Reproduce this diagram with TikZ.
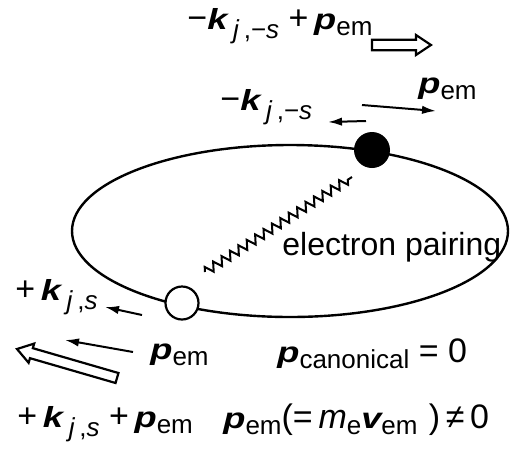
\documentclass[tikz,border=0pt]{standalone}
\usepackage{fontspec}
\setmainfont{Liberation Sans}
\newfontfamily\symfont{Liberation Sans}[FakeStretch=1.25]
\usepackage{tikz}
\usetikzlibrary{arrows.meta,calc,decorations.pathmorphing}
\newcommand{\bvec}[1]{{\symfont\fontsize{14.5}{16}\selectfont\bfseries\itshape #1}}
\newcommand{\lsub}[2][3pt]{\raisebox{-#1}{\fontsize{13}{15}\selectfont #2}}
% hollow block arrow from tail #1 to tip #2
\newcommand{\hollowarrow}[2]{%
  \coordinate (hh) at ($(#2)!7.5pt!(#1)$);
  \draw[fatarrow] ($(#1)!2.6pt!90:(#2)$) -- ($(hh)!2.6pt!90:(#2)$) -- ($(hh)!5pt!90:(#2)$)
    -- (#2) -- ($(hh)!5pt!-90:(#2)$) -- ($(hh)!2.6pt!-90:(#2)$) -- ($(#1)!2.6pt!-90:(#2)$) -- cycle;
}
\tikzset{
  orbit/.style={line width=1.2pt},
  electron/.style={circle, fill=black, minimum size=18pt, inner sep=0pt},
  hole/.style={circle, draw, line width=1.1pt, fill=white, minimum size=16.5pt, inner sep=0pt},
  pairwave/.style={line width=1pt, decorate, decoration={zigzag, segment length=5pt, amplitude=2.2pt}},
  momarrow/.style={-{Latex[length=7pt,width=4.2pt]}, line width=1pt},
  fatarrow/.style={line width=1.1pt, line join=miter, fill=white},
  lbl/.style={anchor=base west, inner sep=0pt}
}
\begin{document}
\begin{tikzpicture}[x=0.5pt, y=-0.5pt, every node/.style={font=\fontsize{17}{20}\selectfont}]
  \useasboundingbox (0,0) rectangle (510,452);
  % orbit and the pair
  \draw[orbit] (290,231) ellipse [x radius=218, y radius=86];
  \node[electron] (elec) at (372,150) {};
  \node[hole] (hol) at (182,303) {};
  \coordinate (zigA) at (205,272);
  \coordinate (zigB) at (352,177);
  \draw[pairwave] (zigA) -- (zigB);
  \node[lbl, font=\fontsize{16}{19}\selectfont] (pairing) at (282,255) {electron pairing};

  % momenta of the upper electron
  \coordinate (bigR0) at (372,45);
  \coordinate (bigR1) at (431,45);
  \hollowarrow{bigR0}{bigR1}
  \coordinate (pR0) at (362,105);
  \coordinate (pR1) at (436,111);
  \draw[momarrow] (pR0) -- (pR1);
  \coordinate (kR0) at (366,121);
  \coordinate (kR1) at (328,122);
  \draw[momarrow] (kR0) -- (kR1);
  \node[lbl] (sumtop) at (187,29) {−\bvec{k}\,\lsub[4.5pt]{\textit{j}\,,−\textit{s}}\ +\,\bvec{p}\lsub{em}};
  \node[lbl] (pemtop) at (418,93) {\bvec{p}\lsub{em}};
  \node[lbl] (ktop) at (220,110) {−\bvec{k}\,\lsub[4.5pt]{\textit{j}\,,−\textit{s}}};

  % momenta of the lower electron
  \coordinate (kL0) at (142,315);
  \coordinate (kL1) at (105,307);
  \draw[momarrow] (kL0) -- (kL1);
  \coordinate (pL0) at (133,352);
  \coordinate (pL1) at (65,340);
  \draw[momarrow] (pL0) -- (pL1);
  \coordinate (bigL0) at (117,378);
  \coordinate (bigL1) at (17,349);
  \hollowarrow{bigL0}{bigL1}
  \node[lbl] (kleft) at (15,300) {+\,\bvec{k}\,\lsub[4.5pt]{\textit{j}\,,\textit{s}}};
  \node[lbl] (pemleft) at (150,359) {\bvec{p}\lsub{em}};
  \node[lbl] (sumbot) at (17,427) {+\,\bvec{k}\,\lsub[4.5pt]{\textit{j}\,,\textit{s}}\ +\,\bvec{p}\lsub{em}};

  % relations
  \node[lbl] (pcan) at (277,362) {\bvec{p}\lsub{canonical}\ =\ 0};
  \node[lbl] (pkin) at (223,428) {\bvec{p}\lsub{em}(=\,\textit{m}\lsub{e}\bvec{v}\lsub{em}\,\,)\,≠\,0};
\end{tikzpicture}
\end{document}
